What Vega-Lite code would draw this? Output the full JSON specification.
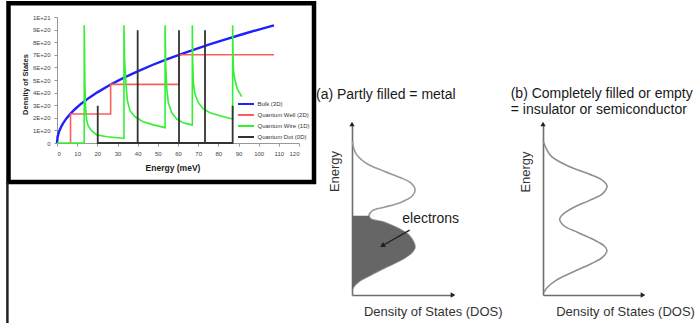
{
  "$schema": "https://vega.github.io/schema/vega-lite/v6.json",
  "padding": {"left": 6, "top": 1, "right": 0, "bottom": 0},
  "autosize": {"type": "pad"},
  "background": "white",
  "config": {
    "view": {"stroke": null},
    "font": "Liberation Sans",
    "title": {"font": "Liberation Sans", "subtitleFont": "Liberation Sans"}
  },
  "datasets": {
    "left": [
      {"s": "Bulk (3D)", "i": 1, "e": 0, "d": 0},
      {"s": "Bulk (3D)", "i": 2, "e": 0.3, "d": 4.9e19},
      {"s": "Bulk (3D)", "i": 3, "e": 1, "d": 9.0e19},
      {"s": "Bulk (3D)", "i": 4, "e": 2, "d": 1.27e20},
      {"s": "Bulk (3D)", "i": 5, "e": 3, "d": 1.56e20},
      {"s": "Bulk (3D)", "i": 6, "e": 4.5, "d": 1.91e20},
      {"s": "Bulk (3D)", "i": 7, "e": 6.7, "d": 2.33e20},
      {"s": "Bulk (3D)", "i": 8, "e": 9, "d": 2.7e20},
      {"s": "Bulk (3D)", "i": 9, "e": 12, "d": 3.12e20},
      {"s": "Bulk (3D)", "i": 10, "e": 16, "d": 3.6e20},
      {"s": "Bulk (3D)", "i": 11, "e": 20, "d": 4.02e20},
      {"s": "Bulk (3D)", "i": 12, "e": 26.6, "d": 4.64e20},
      {"s": "Bulk (3D)", "i": 13, "e": 33, "d": 5.17e20},
      {"s": "Bulk (3D)", "i": 14, "e": 40, "d": 5.69e20},
      {"s": "Bulk (3D)", "i": 15, "e": 47, "d": 6.17e20},
      {"s": "Bulk (3D)", "i": 16, "e": 54, "d": 6.61e20},
      {"s": "Bulk (3D)", "i": 17, "e": 60.5, "d": 7.0e20},
      {"s": "Bulk (3D)", "i": 18, "e": 68, "d": 7.42e20},
      {"s": "Bulk (3D)", "i": 19, "e": 76, "d": 7.85e20},
      {"s": "Bulk (3D)", "i": 20, "e": 84, "d": 8.25e20},
      {"s": "Bulk (3D)", "i": 21, "e": 92, "d": 8.63e20},
      {"s": "Bulk (3D)", "i": 22, "e": 100, "d": 9.0e20},
      {"s": "Bulk (3D)", "i": 23, "e": 107.6, "d": 9.34e20},
      {"s": "Quantum Well (2D)", "i": 1, "e": 6.7, "d": 0},
      {"s": "Quantum Well (2D)", "i": 2, "e": 6.7, "d": 2.3e20},
      {"s": "Quantum Well (2D)", "i": 3, "e": 26.6, "d": 2.3e20},
      {"s": "Quantum Well (2D)", "i": 4, "e": 26.6, "d": 4.65e20},
      {"s": "Quantum Well (2D)", "i": 5, "e": 60.5, "d": 4.65e20},
      {"s": "Quantum Well (2D)", "i": 6, "e": 60.5, "d": 7.0e20},
      {"s": "Quantum Well (2D)", "i": 7, "e": 107.6, "d": 7.0e20},
      {"s": "Quantum Wire (1D)", "i": 1, "e": 0, "d": 0},
      {"s": "Quantum Wire (1D)", "i": 2, "e": 13.5, "d": 0},
      {"s": "Quantum Wire (1D)", "i": 3, "e": 13.5, "d": 9.35e20},
      {"s": "Quantum Wire (1D)", "i": 4, "e": 13.8, "d": 5.0e20},
      {"s": "Quantum Wire (1D)", "i": 5, "e": 14.1, "d": 3.0e20},
      {"s": "Quantum Wire (1D)", "i": 6, "e": 14.7, "d": 1.8e20},
      {"s": "Quantum Wire (1D)", "i": 7, "e": 15.5, "d": 1.35e20},
      {"s": "Quantum Wire (1D)", "i": 8, "e": 17, "d": 1.0e20},
      {"s": "Quantum Wire (1D)", "i": 9, "e": 19.7, "d": 6.4e19},
      {"s": "Quantum Wire (1D)", "i": 10, "e": 25, "d": 5.0e19},
      {"s": "Quantum Wire (1D)", "i": 11, "e": 30, "d": 4.2e19},
      {"s": "Quantum Wire (1D)", "i": 12, "e": 33.2, "d": 3.8e19},
      {"s": "Quantum Wire (1D)", "i": 13, "e": 33.2, "d": 9.35e20},
      {"s": "Quantum Wire (1D)", "i": 14, "e": 33.5, "d": 6.6e20},
      {"s": "Quantum Wire (1D)", "i": 15, "e": 34.1, "d": 4.96e20},
      {"s": "Quantum Wire (1D)", "i": 16, "e": 34.9, "d": 3.36e20},
      {"s": "Quantum Wire (1D)", "i": 17, "e": 36.2, "d": 2.56e20},
      {"s": "Quantum Wire (1D)", "i": 18, "e": 38.7, "d": 2.08e20},
      {"s": "Quantum Wire (1D)", "i": 19, "e": 42.8, "d": 1.68e20},
      {"s": "Quantum Wire (1D)", "i": 20, "e": 47.8, "d": 1.44e20},
      {"s": "Quantum Wire (1D)", "i": 21, "e": 53.6, "d": 1.22e20},
      {"s": "Quantum Wire (1D)", "i": 22, "e": 53.6, "d": 9.35e20},
      {"s": "Quantum Wire (1D)", "i": 23, "e": 53.9, "d": 6.2e20},
      {"s": "Quantum Wire (1D)", "i": 24, "e": 54.4, "d": 4.4e20},
      {"s": "Quantum Wire (1D)", "i": 25, "e": 55.2, "d": 3.2e20},
      {"s": "Quantum Wire (1D)", "i": 26, "e": 56.9, "d": 2.4e20},
      {"s": "Quantum Wire (1D)", "i": 27, "e": 59.4, "d": 1.9e20},
      {"s": "Quantum Wire (1D)", "i": 28, "e": 62.6, "d": 1.6e20},
      {"s": "Quantum Wire (1D)", "i": 29, "e": 66.8, "d": 1.44e20},
      {"s": "Quantum Wire (1D)", "i": 30, "e": 67.1, "d": 1.43e20},
      {"s": "Quantum Wire (1D)", "i": 31, "e": 67.1, "d": 9.35e20},
      {"s": "Quantum Wire (1D)", "i": 32, "e": 67.3, "d": 6.5e20},
      {"s": "Quantum Wire (1D)", "i": 33, "e": 67.6, "d": 4.8e20},
      {"s": "Quantum Wire (1D)", "i": 34, "e": 68.4, "d": 3.9e20},
      {"s": "Quantum Wire (1D)", "i": 35, "e": 70.1, "d": 3.2e20},
      {"s": "Quantum Wire (1D)", "i": 36, "e": 72.5, "d": 2.7e20},
      {"s": "Quantum Wire (1D)", "i": 37, "e": 75.9, "d": 2.4e20},
      {"s": "Quantum Wire (1D)", "i": 38, "e": 80.8, "d": 2.16e20},
      {"s": "Quantum Wire (1D)", "i": 39, "e": 87.1, "d": 1.9e20},
      {"s": "Quantum Wire (1D)", "i": 40, "e": 87.1, "d": 9.35e20},
      {"s": "Quantum Wire (1D)", "i": 41, "e": 87.3, "d": 7.0e20},
      {"s": "Quantum Wire (1D)", "i": 42, "e": 87.5, "d": 5.76e20},
      {"s": "Quantum Wire (1D)", "i": 43, "e": 88.3, "d": 4.96e20},
      {"s": "Quantum Wire (1D)", "i": 44, "e": 89.4, "d": 4.3e20},
      {"s": "Quantum Wire (1D)", "i": 45, "e": 91.6, "d": 3.68e20},
      {"s": "Quantum Dot (0D)", "i": 1, "e": 20.2, "d": 0},
      {"s": "Quantum Dot (0D)", "i": 2, "e": 20.2, "d": 2.95e20},
      {"s": "Quantum Dot (0D)", "i": 3, "e": 20.2, "d": 0},
      {"s": "Quantum Dot (0D)", "i": 4, "e": 40, "d": 0},
      {"s": "Quantum Dot (0D)", "i": 5, "e": 40, "d": 8.95e20},
      {"s": "Quantum Dot (0D)", "i": 6, "e": 40, "d": 0},
      {"s": "Quantum Dot (0D)", "i": 7, "e": 60.5, "d": 0},
      {"s": "Quantum Dot (0D)", "i": 8, "e": 60.5, "d": 8.95e20},
      {"s": "Quantum Dot (0D)", "i": 9, "e": 60.5, "d": 0},
      {"s": "Quantum Dot (0D)", "i": 10, "e": 73.4, "d": 0},
      {"s": "Quantum Dot (0D)", "i": 11, "e": 73.4, "d": 8.95e20},
      {"s": "Quantum Dot (0D)", "i": 12, "e": 73.4, "d": 0},
      {"s": "Quantum Dot (0D)", "i": 13, "e": 87.1, "d": 0},
      {"s": "Quantum Dot (0D)", "i": 14, "e": 87.1, "d": 2.95e20}
    ],
    "frame": [
      {"part": "frame", "e": -24.05, "e2": 127.44, "d": 1.109e21, "d2": -3.1e20}
    ],
    "edge": [
      {"part": "edge", "e": -24.6, "d": -3.1e20, "d2": -1.444e21}
    ],
    "curveA": [
      {"i": 1, "d": 0.004, "e": 0.898},
      {"i": 2, "d": 0.036, "e": 0.83},
      {"i": 3, "d": 0.135, "e": 0.773},
      {"i": 4, "d": 0.317, "e": 0.724},
      {"i": 5, "d": 0.482, "e": 0.686},
      {"i": 6, "d": 0.58, "e": 0.657},
      {"i": 7, "d": 0.624, "e": 0.618},
      {"i": 8, "d": 0.598, "e": 0.58},
      {"i": 9, "d": 0.482, "e": 0.541},
      {"i": 10, "d": 0.317, "e": 0.513},
      {"i": 11, "d": 0.202, "e": 0.493},
      {"i": 12, "d": 0.168, "e": 0.464},
      {"i": 13, "d": 0.186, "e": 0.445},
      {"i": 14, "d": 0.317, "e": 0.426},
      {"i": 15, "d": 0.465, "e": 0.387},
      {"i": 16, "d": 0.564, "e": 0.349},
      {"i": 17, "d": 0.624, "e": 0.281},
      {"i": 18, "d": 0.598, "e": 0.252},
      {"i": 19, "d": 0.515, "e": 0.214},
      {"i": 20, "d": 0.351, "e": 0.166},
      {"i": 21, "d": 0.186, "e": 0.117},
      {"i": 22, "d": 0.069, "e": 0.079},
      {"i": 23, "d": 0.019, "e": 0.05},
      {"i": 24, "d": 0.004, "e": 0.031}
    ],
    "fillA": [
      {"d": 0.004, "e": 0.031},
      {"d": 0.019, "e": 0.05},
      {"d": 0.069, "e": 0.079},
      {"d": 0.186, "e": 0.117},
      {"d": 0.351, "e": 0.166},
      {"d": 0.515, "e": 0.214},
      {"d": 0.598, "e": 0.252},
      {"d": 0.624, "e": 0.281},
      {"d": 0.564, "e": 0.349},
      {"d": 0.465, "e": 0.387},
      {"d": 0.317, "e": 0.426},
      {"d": 0.186, "e": 0.445},
      {"d": 0.168, "e": 0.464}
    ],
    "curveB": [
      {"i": 1, "d": 0.0, "e": 0.902},
      {"i": 2, "d": 0.077, "e": 0.815},
      {"i": 3, "d": 0.244, "e": 0.756},
      {"i": 4, "d": 0.46, "e": 0.708},
      {"i": 5, "d": 0.577, "e": 0.678},
      {"i": 6, "d": 0.64, "e": 0.639},
      {"i": 7, "d": 0.594, "e": 0.591},
      {"i": 8, "d": 0.46, "e": 0.552},
      {"i": 9, "d": 0.31, "e": 0.513},
      {"i": 10, "d": 0.204, "e": 0.474},
      {"i": 11, "d": 0.167, "e": 0.444},
      {"i": 12, "d": 0.21, "e": 0.405},
      {"i": 13, "d": 0.344, "e": 0.367},
      {"i": 14, "d": 0.494, "e": 0.327},
      {"i": 15, "d": 0.61, "e": 0.288},
      {"i": 16, "d": 0.64, "e": 0.259},
      {"i": 17, "d": 0.594, "e": 0.22},
      {"i": 18, "d": 0.477, "e": 0.181},
      {"i": 19, "d": 0.294, "e": 0.133},
      {"i": 20, "d": 0.127, "e": 0.084},
      {"i": 21, "d": 0.044, "e": 0.045},
      {"i": 22, "d": 0.01, "e": 0.016}
    ],
    "axisEnds": [
      {"axis": "energy", "d": 0, "e": 1},
      {"axis": "dos", "d": 1, "e": 0}
    ],
    "noteA": [
      {"label": "electrons", "d": 0.571, "e": 0.38, "d2": 0.3, "e2": 0.288, "td": 0.779, "te": 0.444}
    ]
  },
  "spacing": -1,
  "hconcat": [
    {
      "width": 242,
      "height": 126,
      "data": {"name": "left"},
      "encoding": {
        "x": {
          "field": "e", "type": "quantitative", "title": "Energy (meV)",
          "scale": {"domain": [0, 120], "nice": false, "zero": false},
          "axis": {
            "values": [0, 10, 20, 30, 40, 50, 60, 70, 80, 90, 100, 110, 120],
            "grid": false, "labelFontSize": 6, "labelColor": "#444", "labelFont": "Liberation Sans",
            "tickSize": 3, "tickColor": "#999", "domainColor": "#999", "labelPadding": 4,
            "titleFontSize": 8.5, "titleFontWeight": "bold", "titleColor": "#222", "titleFont": "Liberation Sans",
            "titleX": 115.5, "titleY": 24.5, "titleBaseline": "middle", "titleAlign": "center"
          }
        },
        "y": {
          "field": "d", "type": "quantitative", "title": "Density of States",
          "scale": {"domain": [0, 1e21], "nice": false},
          "axis": {
            "values": [0, 1e20, 2e20, 3e20, 4e20, 5e20, 6e20, 7e20, 8e20, 9e20, 1e21],
            "labelExpr": "datum.value == 0 ? '0' : (datum.value >= 9.5e20 ? '1E+21' : round(datum.value / 1e20) + 'E+20')",
            "grid": false, "labelFontSize": 6, "labelColor": "#444", "labelFont": "Liberation Sans",
            "tickSize": 3, "tickColor": "#999", "domainColor": "#999", "labelPadding": 4,
            "titleFontSize": 7.5, "titleFontWeight": "bold", "titleColor": "#222", "titleFont": "Liberation Sans",
            "titleX": -32, "titleY": 67, "titleBaseline": "middle", "titleAlign": "center", "titleAngle": -90
          }
        }
      },
      "layer": [
        {
          "data": {"name": "frame"},
          "mark": {"type": "rect", "fill": "#ffffff", "fillOpacity": 0, "stroke": "#000000", "strokeWidth": 4.5, "clip": false},
          "encoding": {
            "x2": {"field": "e2"},
            "y2": {"field": "d2"}
          }
        },
        {
          "data": {"name": "edge"},
          "mark": {"type": "rule", "stroke": "#222222", "strokeWidth": 2.5, "clip": false},
          "encoding": {
            "y2": {"field": "d2"}
          }
        },
        {
          "transform": [{"filter": "datum.s === 'Bulk (3D)'"}],
          "mark": {"type": "line", "strokeWidth": 2.4},
          "encoding": {
            "order": {"field": "i", "type": "quantitative"},
            "color": {
              "field": "s", "type": "nominal",
              "scale": {"domain": ["Bulk (3D)", "Quantum Well (2D)", "Quantum Wire (1D)", "Quantum Dot (0D)"], "range": ["#1f1fff", "#ff5c5c", "#33f033", "#333333"]},
              "legend": {
                "orient": "none", "legendX": 183, "legendY": 81, "title": null,
                "symbolType": "M-1.6,0H1.6", "symbolSize": 100, "symbolStrokeWidth": 2,
                "labelFontSize": 6, "labelColor": "#333", "labelFont": "Liberation Sans",
                "labelOffset": 5.5, "rowPadding": 1, "padding": 0
              }
            }
          }
        },
        {
          "transform": [{"filter": "datum.s === 'Quantum Well (2D)'"}],
          "mark": {"type": "line", "strokeWidth": 1.6},
          "encoding": {
            "order": {"field": "i", "type": "quantitative"},
            "color": {"field": "s", "type": "nominal"}
          }
        },
        {
          "transform": [{"filter": "datum.s === 'Quantum Wire (1D)'"}],
          "mark": {"type": "line", "strokeWidth": 1.6},
          "encoding": {
            "order": {"field": "i", "type": "quantitative"},
            "color": {"field": "s", "type": "nominal"}
          }
        },
        {
          "transform": [{"filter": "datum.s === 'Quantum Dot (0D)'"}],
          "mark": {"type": "line", "strokeWidth": 1.8},
          "encoding": {
            "order": {"field": "i", "type": "quantitative"},
            "color": {"field": "s", "type": "nominal"}
          }
        }
      ]
    },
    {
      "spacing": 10,
      "vconcat": [
        {
          "width": 1,
          "height": 60,
          "data": {"values": []},
          "mark": "point"
        },
        {
          "spacing": 7,
          "hconcat": [
            {
              "width": 101,
              "height": 171,
              "title": {
                "text": "(a) Partly filled = metal",
                "fontSize": 14, "fontWeight": "normal", "color": "#1a1a1a",
                "anchor": "start", "frame": "group", "dx": -36, "offset": 20
              },
              "encoding": {
                "x": {
                  "field": "d", "type": "quantitative", "title": "Density of States (DOS)",
                  "scale": {"domain": [0, 1], "nice": false},
                  "axis": {
                    "domainColor": "#6e6e6e", "domainWidth": 1.6, "ticks": false, "labels": false, "grid": false,
                    "titleFontSize": 13, "titleFontWeight": "normal", "titleColor": "#333", "titleFont": "Liberation Sans",
                    "titleAlign": "left", "titleBaseline": "middle", "titleX": 11.4, "titleY": 16
                  }
                },
                "y": {
                  "field": "e", "type": "quantitative", "title": "Energy",
                  "scale": {"domain": [0, 1], "nice": false},
                  "axis": {
                    "domainColor": "#6e6e6e", "domainWidth": 1.6, "ticks": false, "labels": false, "grid": false,
                    "titleFontSize": 13, "titleFontWeight": "normal", "titleColor": "#333", "titleFont": "Liberation Sans",
                    "titleAngle": -90, "titleAlign": "center", "titleBaseline": "middle", "titleX": -18, "titleY": 47
                  }
                }
              },
              "layer": [
                {
                  "data": {"name": "curveA"},
                  "mark": {"type": "line", "stroke": "#9a9a9a", "strokeWidth": 1.6, "interpolate": "catmull-rom"},
                  "encoding": {"order": {"field": "i", "type": "quantitative"}}
                },
                {
                  "data": {"name": "fillA"},
                  "mark": {"type": "area", "orient": "horizontal", "fill": "#666666", "interpolate": "catmull-rom"},
                  "encoding": {
                    "x": {"field": "d", "type": "quantitative", "stack": null, "title": "Density of States (DOS)"},
                    "y": {"field": "e", "type": "quantitative", "title": "Energy"}
                  }
                },
                {
                  "data": {"name": "axisEnds"},
                  "mark": {"type": "point", "filled": true, "size": 28, "color": "#222222", "opacity": 1},
                  "encoding": {
                    "shape": {"field": "axis", "type": "nominal", "scale": {"domain": ["energy", "dos"], "range": ["triangle-up", "triangle-right"]}, "legend": null}
                  }
                },
                {
                  "data": {"name": "noteA"},
                  "mark": {"type": "rule", "color": "#222222", "strokeWidth": 1.4},
                  "encoding": {
                    "x": {"field": "d", "type": "quantitative", "title": "Density of States (DOS)"},
                    "y": {"field": "e", "type": "quantitative", "title": "Energy"},
                    "x2": {"field": "d2"},
                    "y2": {"field": "e2"}
                  }
                },
                {
                  "data": {"name": "noteA"},
                  "mark": {"type": "point", "shape": "triangle-up", "angle": 240, "filled": true, "size": 34, "color": "#222222", "opacity": 1},
                  "encoding": {
                    "x": {"field": "d2", "type": "quantitative", "title": "Density of States (DOS)"},
                    "y": {"field": "e2", "type": "quantitative", "title": "Energy"}
                  }
                },
                {
                  "data": {"name": "noteA"},
                  "mark": {"type": "text", "fontSize": 14, "color": "#222222", "align": "center", "baseline": "middle", "font": "Liberation Sans"},
                  "encoding": {
                    "x": {"field": "td", "type": "quantitative", "title": "Density of States (DOS)"},
                    "y": {"field": "te", "type": "quantitative", "title": "Energy"},
                    "text": {"field": "label"}
                  }
                }
              ]
            },
            {
              "width": 100,
              "height": 171,
              "title": {
                "text": ["(b) Completely filled or empty", "= insulator or semiconductor"],
                "fontSize": 14, "fontWeight": "normal", "color": "#1a1a1a", "lineHeight": 15.7,
                "anchor": "start", "frame": "group", "dx": -32.3, "offset": 5
              },
              "encoding": {
                "x": {
                  "field": "d", "type": "quantitative", "title": "Density of States (DOS)",
                  "scale": {"domain": [0, 1], "nice": false},
                  "axis": {
                    "domainColor": "#6e6e6e", "domainWidth": 1.6, "ticks": false, "labels": false, "grid": false,
                    "titleFontSize": 13, "titleFontWeight": "normal", "titleColor": "#333", "titleFont": "Liberation Sans",
                    "titleAlign": "left", "titleBaseline": "middle", "titleX": 12.7, "titleY": 16
                  }
                },
                "y": {
                  "field": "e", "type": "quantitative", "title": "Energy",
                  "scale": {"domain": [0, 1], "nice": false},
                  "axis": {
                    "domainColor": "#6e6e6e", "domainWidth": 1.6, "ticks": false, "labels": false, "grid": false,
                    "titleFontSize": 13, "titleFontWeight": "normal", "titleColor": "#333", "titleFont": "Liberation Sans",
                    "titleAngle": -90, "titleAlign": "center", "titleBaseline": "middle", "titleX": -17.3, "titleY": 47.5
                  }
                }
              },
              "layer": [
                {
                  "data": {"name": "curveB"},
                  "mark": {"type": "line", "stroke": "#8f8f8f", "strokeWidth": 1.6, "interpolate": "catmull-rom"},
                  "encoding": {"order": {"field": "i", "type": "quantitative"}}
                },
                {
                  "data": {"name": "axisEnds"},
                  "mark": {"type": "point", "filled": true, "size": 28, "color": "#222222", "opacity": 1},
                  "encoding": {
                    "shape": {"field": "axis", "type": "nominal", "scale": {"domain": ["energy", "dos"], "range": ["triangle-up", "triangle-right"]}, "legend": null}
                  }
                }
              ]
            }
          ]
        }
      ]
    }
  ]
}
